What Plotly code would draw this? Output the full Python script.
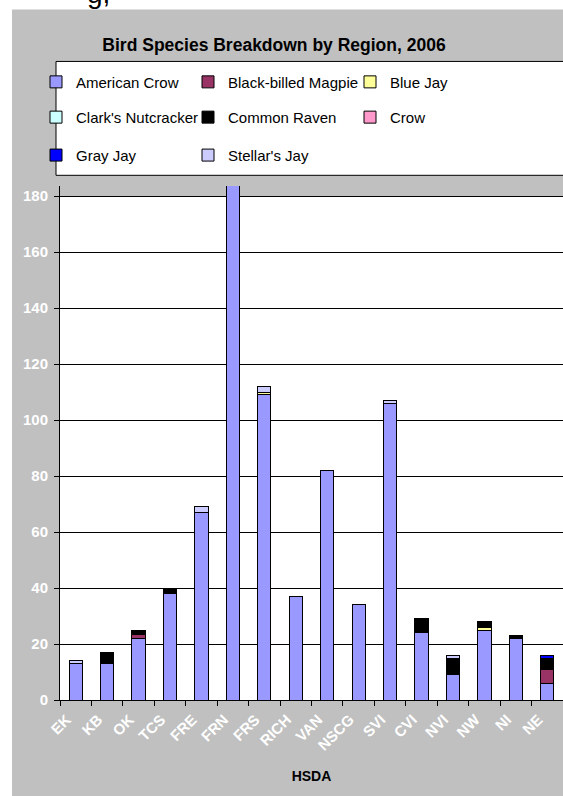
import plotly.graph_objects as go

# ---- data ----
regions = ["EK", "KB", "OK", "TCS", "FRE", "FRN", "FRS", "RICH", "VAN", "NSCG",
           "SVI", "CVI", "NVI", "NW", "NI", "NE"]
american_crow      = [13, 13, 22, 38, 67, 200, 109, 37, 82, 34, 106, 24, 9, 25, 22, 6]
black_billed_magpie = [0, 0, 1.5, 0, 0, 0, 0, 0, 0, 0, 0, 0, 0, 0, 0, 5]
blue_jay           = [0, 0, 0, 0, 0, 0, 1, 0, 0, 0, 0, 0, 0, 1, 0, 0]
clarks_nutcracker  = [0, 0, 0, 0, 0, 0, 0, 0, 0, 0, 0, 0, 0, 0, 0, 0]
common_raven       = [0, 4, 1.5, 2, 0, 0, 0, 0, 0, 0, 0, 5, 6, 2, 1, 4]
crow               = [0, 0, 0, 0, 0, 0, 0, 0, 0, 0, 0, 0, 0, 0, 0, 0]
gray_jay           = [0, 0, 0, 0, 0, 0, 0, 0, 0, 0, 0, 0, 0, 0, 0, 1]
stellars_jay       = [1, 0, 0, 0, 2, 0, 2, 0, 0, 0, 1, 0, 1, 0, 0, 0]
y_ticks = [0, 20, 40, 60, 80, 100, 120, 140, 160, 180]

series = [
    ("American Crow", american_crow, "#9999FF"),
    ("Black-billed Magpie", black_billed_magpie, "#993366"),
    ("Blue Jay", blue_jay, "#FFFF99"),
    ("Clark's Nutcracker", clarks_nutcracker, "#CCFFFF"),
    ("Common Raven", common_raven, "#000000"),
    ("Crow", crow, "#FF99CC"),
    ("Gray Jay", gray_jay, "#0000FF"),
    ("Stellar's Jay", stellars_jay, "#CCCCFF"),
]

W, H = 563, 796
L, R, T, B = 60, 0, 185.7, 95.7
PW, PH = W - L - R, H - T - B


def xp(px):
    return (px - L) / PW


def yp(py):
    return (H - B - py) / PH


FONT = "Liberation Sans, Arial, sans-serif"

# legend grid: 3 columns x 3 rows (text start x, row centre y in pixels)
col_text_x = [76, 228, 390]
row_y = [81.7, 117, 155]

fig = go.Figure()
legend_layouts = {}
for i, (name, vals, color) in enumerate(series):
    lg = "legend" if i == 0 else "legend%d" % (i + 1)
    fig.add_trace(go.Bar(
        x=regions, y=vals, name=name, legend=lg, showlegend=True,
        marker=dict(color=color, line=dict(color="#000000", width=1)),
        hoverinfo="skip",
    ))
    r, c = divmod(i, 3)
    legend_layouts[lg] = dict(
        orientation="h", bgcolor="rgba(0,0,0,0)", borderwidth=0,
        xanchor="left", yanchor="middle", visible=True,
        x=xp(col_text_x[c] - 40), y=yp(row_y[r]),
        font=dict(family=FONT, size=15, color="#000000"),
    )

fig.update_layout(
    width=W, height=H,
    showlegend=True,
    margin=dict(l=L, r=R, t=T, b=B, pad=0, autoexpand=False),
    barmode="stack", bargap=0.58,
    paper_bgcolor="#FFFFFF", plot_bgcolor="rgba(0,0,0,0)",
    font=dict(family=FONT),
    title=dict(text="<b>Bird Species Breakdown by Region, 2006</b>",
               xref="container", yref="container",
               x=274 / W, xanchor="center", y=1 - 45 / H, yanchor="middle",
               font=dict(family=FONT, size=17.5, color="#000000")),
    xaxis=dict(
        type="category", range=[-0.5, 15.5],
        showline=True, linecolor="#000000", linewidth=1,
        ticks="outside", ticklen=5, tickcolor="#000000", tickson="boundaries",
        tickangle=-45, ticklabelshift=-9, ticklabelstandoff=4,
        tickfont=dict(family=FONT, size=15, color="#FFFFFF", weight="bold"),
        title=dict(text="<b>HSDA</b>", standoff=18,
                   font=dict(family=FONT, size=14, color="#000000")),
        showgrid=False, fixedrange=True,
    ),
    yaxis=dict(
        range=[0, 183.6], tickvals=y_ticks,
        showline=True, linecolor="#000000", linewidth=1,
        ticks="outside", ticklen=5, tickcolor="#000000", ticklabelstandoff=3,
        tickfont=dict(family=FONT, size=15, color="#FFFFFF", weight="bold"),
        showgrid=True, gridcolor="#000000", gridwidth=1,
        zeroline=False, fixedrange=True,
    ),
    shapes=[
        # grey chart area
        dict(type="rect", xref="paper", yref="paper",
             x0=xp(12), x1=xp(620), y0=yp(820), y1=yp(9),
             fillcolor="#C0C0C0", line=dict(width=0), layer="below"),
        # legend frame
        dict(type="rect", xref="paper", yref="paper",
             x0=xp(56), x1=xp(620), y0=yp(175), y1=yp(61),
             fillcolor="#FFFFFF", line=dict(color="#000000", width=1), layer="below"),
        # white plot area up to the axis maximum of 180
        dict(type="rect", xref="x", yref="y", x0=-0.5, x1=15.5, y0=0, y1=180,
             fillcolor="#FFFFFF", line=dict(width=0), layer="below"),
    ],
    annotations=[
        dict(text="g,", xref="paper", yref="paper", x=xp(112), y=yp(10),
             xanchor="right", yanchor="bottom", showarrow=False,
             font=dict(family=FONT, size=28, color="#000000")),
    ],
    **legend_layouts,
)

fig.write_html(
    "out.html",
    config={"displayModeBar": False},
    post_script="document.body.style.margin='0';document.body.style.overflow='hidden';",
)
